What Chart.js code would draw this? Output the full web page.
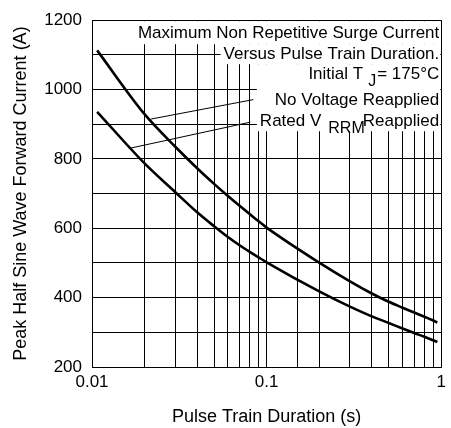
<!DOCTYPE html>
<html lang="en">
<head>
<meta charset="UTF-8">
<title>Maximum Non Repetitive Surge Current</title>
<script src="https://cdn.jsdelivr.net/npm/chart.js"></script>
<style>
  html, body { margin: 0; padding: 0; background: #fff; }
</style>
</head>
<body>
<canvas id="surgeChart" width="451" height="428"></canvas>
<script>
// curve (pulse train duration in s, current in A)
const durationNoV = [0.0107, 0.02, 0.03, 0.04, 0.05, 0.06, 0.07, 0.08, 0.09, 0.1, 0.2, 0.3, 0.4, 0.5, 0.6, 0.7, 0.8, 0.9, 0.95];
const currentNoV  = [1113, 929, 835, 773, 728, 693, 665, 641, 620, 602, 501, 447, 412, 388, 371, 357, 345, 334, 328];
const durationRated = [0.0107, 0.02, 0.03, 0.04, 0.05, 0.06, 0.07, 0.08, 0.09, 0.1, 0.2, 0.3, 0.4, 0.5, 0.6, 0.7, 0.8, 0.95];
const currentRated  = [936, 787, 704, 646, 606, 575, 551, 532, 516, 502, 418, 374, 346, 327, 311, 298, 287, 272];

// leader lines from the labels to the curves
const leaderNoVX = [0.0218, 0.0839];
const leaderNoVY = [915, 971];
const leaderRatedX = [0.01657, 0.0806];
const leaderRatedY = [831, 906];

const xTickLabels = ['0.01', '0.1', '1'];
const yTickLabels = [200, 400, 600, 800, 1000, 1200];

const noteLines = [
    [{ t: 'Maximum Non Repetitive Surge Current' }],
    [{ t: 'Versus Pulse Train Duration.' }],
    [{ t: 'Initial T', gap: 5 }, { t: 'J', sub: true, gap: 1 }, { t: '= 175°C' }],
    [{ t: 'No Voltage Reapplied' }],
    [{ t: 'Rated V', gap: 7 }, { t: 'RRM', sub: true, gap: -2 }, { t: 'Reapplied' }]
];

const FONT = "'Liberation Sans', Arial, sans-serif";
Chart.defaults.color = '#000';
Chart.defaults.font.family = FONT;

function pts(xs, ys) {
    return xs.map((x, i) => ({ x: x, y: ys[i] }));
}

// white boxes + text block in the upper right corner
const notesPlugin = {
    id: 'notes',
    beforeDatasetsDraw(chart) {
        const ctx = chart.ctx;
        const area = chart.chartArea;
        const R = area.right - 2;
        const lineY = [13, 34, 54.5, 80, 101];
        const groups = [{ lines: [0], top: 1, bottom: 24 }, { lines: [1], top: 24, bottom: 44 }, { lines: [2, 3, 4], top: 44, bottom: 111 }];
        const normal = '17px ' + FONT;
        const small = '16px ' + FONT;

        function lineWidth(line) {
            let w = 0;
            line.forEach(s => {
                ctx.font = s.sub ? small : normal;
                w += ctx.measureText(s.t).width + (s.gap || 0);
            });
            return w;
        }

        ctx.save();
        groups.forEach(g => {
            const w = Math.max(...g.lines.map(i => lineWidth(noteLines[i])));
            ctx.fillStyle = '#fff';
            ctx.fillRect(R - w - 3, area.top + g.top, area.right - 1 - (R - w - 3), g.bottom - g.top);
        });
        ctx.fillStyle = '#000';
        ctx.textBaseline = 'middle';
        ctx.textAlign = 'left';
        noteLines.forEach((line, i) => {
            let x = R - lineWidth(line);
            const y = area.top + lineY[i];
            line.forEach(s => {
                ctx.font = s.sub ? small : normal;
                ctx.fillText(s.t, x, s.sub ? y + 7 : y);
                x += ctx.measureText(s.t).width + (s.gap || 0);
            });
        });
        ctx.restore();
    }
};

const curveStyle = { borderColor: '#000', borderWidth: 2.6, pointRadius: 0, fill: false, cubicInterpolationMode: 'monotone' };
const leaderStyle = { borderColor: '#000', borderWidth: 1, pointRadius: 0, fill: false };

new Chart(document.getElementById('surgeChart'), {
    type: 'line',
    data: {
        datasets: [
            Object.assign({ label: 'No Voltage Reapplied', data: pts(durationNoV, currentNoV) }, curveStyle),
            Object.assign({ label: 'Rated VRRM Reapplied', data: pts(durationRated, currentRated) }, curveStyle),
            Object.assign({ label: 'leader1', data: pts(leaderNoVX, leaderNoVY) }, leaderStyle),
            Object.assign({ label: 'leader2', data: pts(leaderRatedX, leaderRatedY) }, leaderStyle)
        ]
    },
    options: {
        responsive: false,
        animation: false,
        layout: { padding: { left: 0, right: 6, top: 17, bottom: 0 } },
        plugins: { legend: { display: false }, tooltip: { enabled: false } },
        scales: {
            x: {
                type: 'logarithmic',
                min: 0.01,
                max: 1,
                afterFit(scale) { scale.height = 61; },
                grid: { color: '#000', lineWidth: 1, drawTicks: false },
                border: { color: '#000', width: 1 },
                ticks: {
                    autoSkip: false,
                    maxRotation: 0,
                    padding: 5,
                    font: { size: 17 },
                    callback(v) {
                        const e = Math.round(Math.log10(v));
                        if (Math.abs(Math.log10(v) - e) > 1e-6) return '';
                        return xTickLabels[e + 2];
                    }
                },
                title: { display: true, text: 'Pulse Train Duration (s)', font: { size: 18 }, padding: { top: 0, bottom: 0 } }
            },
            y: {
                min: 200,
                max: 1200,
                afterFit(scale) { scale.width = 92; },
                grid: { color: '#000', lineWidth: 1, drawTicks: false },
                border: { color: '#000', width: 1 },
                ticks: {
                    stepSize: 100,
                    autoSkip: false,
                    padding: 10,
                    font: { size: 17 },
                    callback(v) { return yTickLabels.includes(v) ? String(v) : ''; }
                },
                title: { display: true, text: 'Peak Half Sine Wave Forward Current (A)', font: { size: 18 }, padding: { top: 10, bottom: 0 } }
            }
        }
    },
    plugins: [notesPlugin]
});
</script>
</body>
</html>
